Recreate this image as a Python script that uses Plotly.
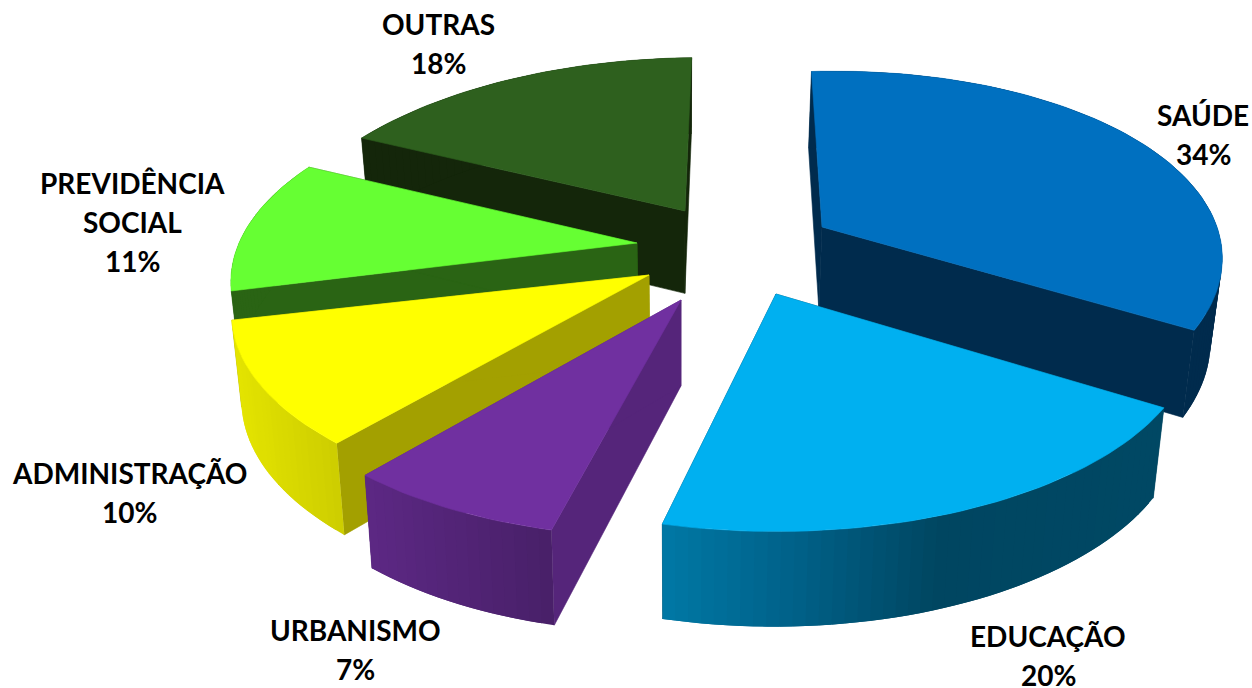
import math
import plotly.graph_objects as go

# ---- data ----
categories = ["SAÚDE", "EDUCAÇÃO", "URBANISMO", "ADMINISTRAÇÃO", "PREVIDÊNCIA<br>SOCIAL", "OUTRAS"]
shares = [34.4, 19.6, 7.2, 10.1, 11.2, 17.5]

# ---- presentation: exploded 3D look, projected from the shares ----
W, H = 1252, 688
START_ANGLE = 91.5
PERSPECTIVE = 0.2
apex_x = [822, 776, 681, 649, 637, 685]
apex_y = [227, 294, 300, 275, 243, 211]
radius_x = [395, 410, 409, 409, 398, 398]
radius_y = [187, 190, 190, 187, 187, 184]
shear = [0.08, 0, 0.07, 0, 0, 0.1]
angle_offset = [2.5, 0, 0, -1.5, -0.7, 0]
top_colors = ["#0070C0", "#00B0F0", "#7030A0", "#FFFF00", "#66FF33", "#2E601E"]
cut_colors = ["#002B4D", "#004660", "#55257A", "#A3A000", "#2A6414", "#14260A"]
# wall gradient stops: (screen x, rgb)
wall_stops = [
    [(800, (0, 43, 77)), (1230, (0, 43, 77))],
    [(665, (0, 120, 165)), (800, (0, 96, 135)), (940, (0, 70, 97)), (1160, (0, 72, 100))],
    [(365, (92, 40, 132)), (552, (72, 32, 104))],
    [(233, (228, 228, 0)), (337, (205, 205, 0))],
    [(220, (42, 100, 20)), (320, (42, 100, 20))],
    [(350, (20, 38, 10)), (700, (20, 38, 10))],
]
paint_order = [5, 0, 4, 3, 2, 1]
label_x = [1203, 1048, 355, 129, 132, 438]
label_y = [134, 655, 649, 492, 222, 43]
LINE_STEP = 39
FONT = "Lato"
FONT_SIZE = 28


def arc_point(i, deg):
    t = math.radians(deg)
    s = 1 / (1 + PERSPECTIVE * math.sin(t))
    y = apex_y[i] - radius_y[i] * math.sin(t) * s
    x = apex_x[i] + radius_x[i] * math.cos(t) * s + shear[i] * (apex_y[i] - y)
    return x, y


def drop(p):
    x, y = p
    return 680 + (x - 680) * 0.978, y + 83 + 0.04 * (y - 227)


def wall_color(i, x):
    stops = wall_stops[i]
    if x <= stops[0][0]:
        c = stops[0][1]
    elif x >= stops[-1][0]:
        c = stops[-1][1]
    else:
        for (x0, c0), (x1, c1) in zip(stops, stops[1:]):
            if x0 <= x <= x1:
                f = (x - x0) / (x1 - x0)
                c = tuple(a + (b - a) * f for a, b in zip(c0, c1))
                break
    return "rgb(%d,%d,%d)" % tuple(round(v) for v in c)


def poly(points, color, name, edge=0.6):
    xs = [p[0] for p in points] + [points[0][0]]
    ys = [p[1] for p in points] + [points[0][1]]
    return go.Scatter(x=xs, y=ys, mode="lines", fill="toself", fillcolor=color,
                      line=dict(color=color, width=edge), hoverinfo="text", text=name,
                      showlegend=False)


total = sum(shares)
edges = [START_ANGLE]
for v in shares:
    edges.append(edges[-1] - v / total * 360)

fig = go.Figure()
for i in paint_order:
    a0, a1 = edges[i] + angle_offset[i], edges[i + 1] + angle_offset[i]
    name = "%s %d%%" % (categories[i].replace("<br>", " "), round(shares[i]))
    apex = (apex_x[i], apex_y[i])
    n = max(6, int(abs(a1 - a0) / 1.5))
    arc = [arc_point(i, a0 + (a1 - a0) * k / n) for k in range(n + 1)]
    # cut faces
    for end in (arc[0], arc[-1]):
        fig.add_trace(poly([apex, end, drop(end), drop(apex)], cut_colors[i], name))
    # outer wall: overlapping strips carrying the gradient, so no seams show
    for k in range(n):
        p, q = arc[k], arc[min(k + 2, n)]
        fig.add_trace(poly([p, q, drop(q), drop(p)], wall_color(i, (arc[k][0] + arc[k + 1][0]) / 2), name, edge=0))
    # top face
    fig.add_trace(poly([apex] + arc, top_colors[i], name))

for i, cat in enumerate(categories):
    lines = cat.split("<br>") + ["%d%%" % round(shares[i])]
    for j, line in enumerate(lines):
        fig.add_annotation(x=label_x[i], y=label_y[i] + (j - (len(lines) - 1) / 2) * LINE_STEP,
                           text=line, showarrow=False, xanchor="center", yanchor="middle",
                           font=dict(family=FONT, size=FONT_SIZE, color="#000000", weight=700))

fig.update_layout(
    width=W, height=H, margin=dict(l=0, r=0, t=0, b=0),
    paper_bgcolor="#FFFFFF", plot_bgcolor="#FFFFFF", showlegend=False,
    xaxis=dict(range=[0, W], visible=False, fixedrange=True),
    yaxis=dict(range=[H, 0], visible=False, fixedrange=True),
)
fig.write_html("out.html", config={"displayModeBar": False},
               post_script="document.body.style.margin='0';document.body.style.overflow='hidden';")
